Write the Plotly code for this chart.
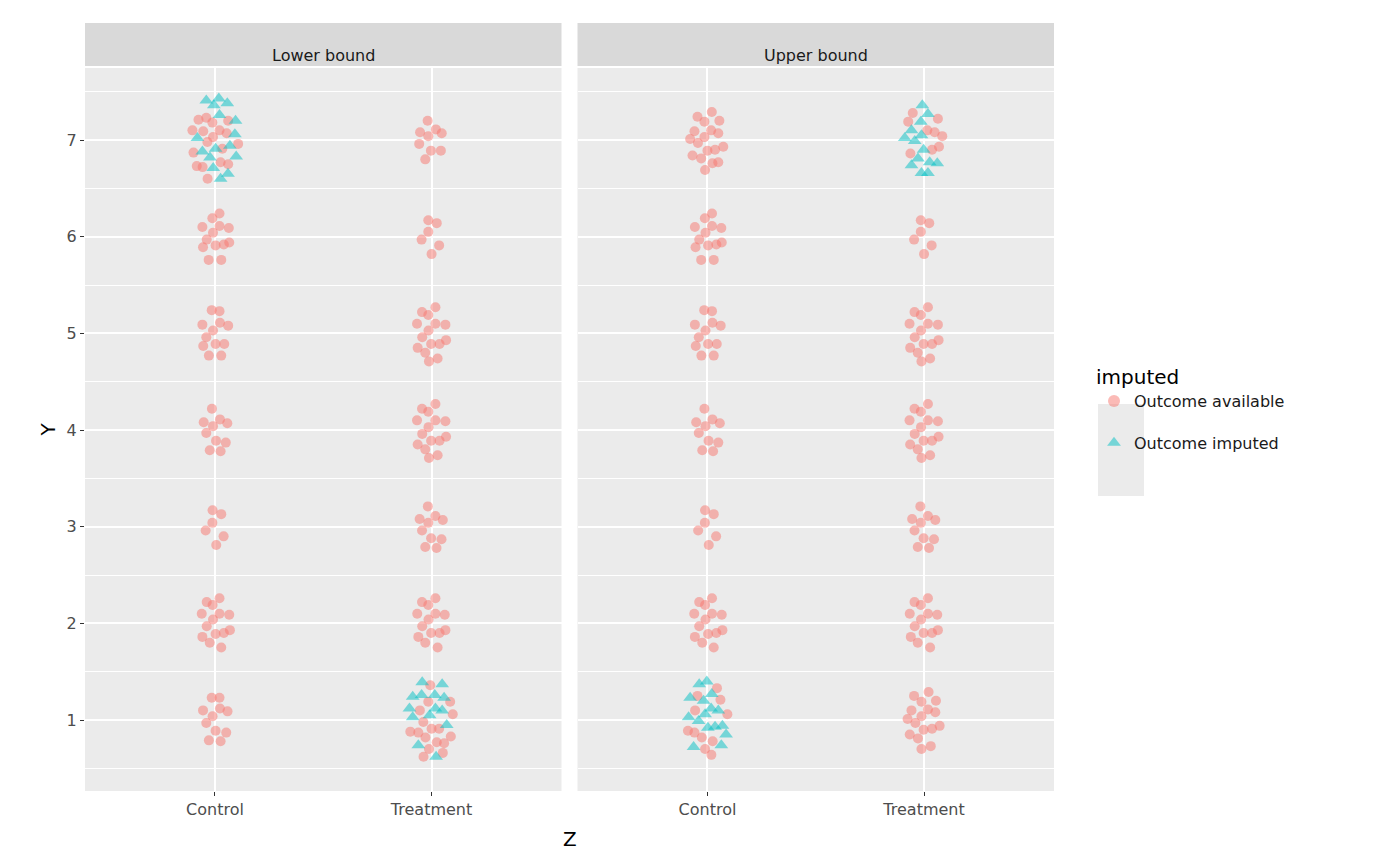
import plotly.graph_objects as go
from plotly.subplots import make_subplots

# Z categories and panels
categories = ["Control", "Treatment"]
panels = ["Lower bound", "Upper bound"]

# observed outcomes (same in both panels), (jitter offset, Y)
ctrl_y7_lower = [(-.076, 7.21), (-.04, 7.23), (-.012, 7.18), (.061, 7.20), (-.104, 7.10), (-.054, 7.09),
                 (.021, 7.10), (.054, 7.07), (-.009, 7.03), (-.035, 6.98), (.107, 6.96), (.034, 6.91),
                 (-.099, 6.87), (-.084, 6.73), (-.057, 6.72), (.026, 6.77), (.061, 6.75), (-.034, 6.60)]
ctrl_y7_upper = [(-.046, 7.24), (.02, 7.29), (-.014, 7.19), (.055, 7.20), (-.06, 7.09), (.017, 7.10),
                 (.05, 7.07), (-.08, 7.01), (-.014, 7.03), (-.044, 6.97), (.073, 6.93), (0, 6.89),
                 (.035, 6.90), (-.069, 6.84), (-.029, 6.81), (.023, 6.76), (.05, 6.77), (-.011, 6.69)]
ctrl_y6 = [(.021, 6.24), (-.012, 6.19), (-.058, 6.10), (.021, 6.11), (.064, 6.09), (-.009, 6.04),
           (-.038, 5.97), (.066, 5.94), (-.055, 5.89), (.003, 5.91), (.041, 5.92), (-.029, 5.76), (.029, 5.76)]
ctrl_y5 = [(-.015, 5.24), (.021, 5.23), (-.058, 5.09), (.023, 5.11), (.061, 5.08), (-.009, 5.03),
           (-.04, 4.96), (.003, 4.89), (.043, 4.89), (-.054, 4.87), (-.028, 4.77), (.029, 4.77)]
ctrl_y4 = [(-.014, 4.22), (-.052, 4.08), (.023, 4.11), (.057, 4.07), (-.009, 4.04), (-.04, 3.97),
           (.005, 3.89), (.05, 3.87), (-.024, 3.79), (.026, 3.78)]
ctrl_y3 = [(-.011, 3.17), (.029, 3.13), (-.012, 3.04), (-.043, 2.96), (.04, 2.90), (.006, 2.81)]
ctrl_y2 = [(.021, 2.26), (-.038, 2.22), (-.011, 2.19), (-.061, 2.10), (.021, 2.10), (.066, 2.09),
           (-.009, 2.04), (-.038, 1.97), (.069, 1.93), (.003, 1.89), (.041, 1.90), (-.058, 1.86),
           (-.024, 1.80), (.029, 1.75)]
ctrl_y1_lower = [(-.015, 1.23), (.021, 1.23), (-.055, 1.10), (.023, 1.12), (.058, 1.09), (-.011, 1.04),
                 (-.04, 0.97), (.003, 0.89), (.052, 0.87), (-.028, 0.79), (.026, 0.78)]
ctrl_y1_upper = [(.044, 1.33), (-.046, 1.25), (.06, 1.21), (-.057, 1.10), (.092, 1.06), (-.09, 0.89),
                 (-.06, 0.87), (-.026, 0.82), (.024, 0.78), (-.011, 0.70), (.018, 0.64)]

trt_y7_lower = [(-.018, 7.20), (-.053, 7.08), (.02, 7.11), (.047, 7.07), (-.015, 7.04), (-.057, 6.96),
                (-.003, 6.89), (.043, 6.89), (-.029, 6.80)]
trt_y7_upper = [(-.052, 7.28), (-.073, 7.19), (.064, 7.22), (.015, 7.10), (.049, 7.08), (.084, 7.04),
                (.069, 6.93), (.037, 6.90), (-.063, 6.86)]
trt_y6 = [(-.015, 6.17), (.024, 6.14), (-.015, 6.05), (-.046, 5.97), (.035, 5.91), (0, 5.82)]
trt_y5 = [(-.044, 5.22), (.018, 5.27), (-.015, 5.19), (-.067, 5.10), (.018, 5.10), (.064, 5.09),
          (-.014, 5.03), (-.043, 4.96), (.067, 4.93), (-.002, 4.89), (.037, 4.89), (-.064, 4.85),
          (-.029, 4.80), (-.012, 4.71), (.028, 4.74)]
trt_y4 = [(-.044, 4.22), (.018, 4.27), (-.015, 4.19), (-.067, 4.10), (.018, 4.10), (.064, 4.09),
          (-.014, 4.03), (-.043, 3.96), (.067, 3.93), (-.002, 3.89), (.037, 3.89), (-.064, 3.85),
          (-.029, 3.80), (-.012, 3.71), (.028, 3.74)]
trt_y3 = [(-.017, 3.21), (-.055, 3.08), (.018, 3.11), (.052, 3.07), (-.015, 3.04), (-.044, 2.96),
          (-.002, 2.88), (.046, 2.87), (-.029, 2.79), (.023, 2.78)]
trt_y2 = [(.018, 2.26), (-.044, 2.22), (-.015, 2.19), (-.066, 2.10), (.018, 2.10), (.061, 2.09),
          (-.014, 2.04), (-.043, 1.97), (.064, 1.93), (-.002, 1.90), (.037, 1.90), (-.061, 1.86),
          (-.029, 1.80), (.028, 1.75)]
trt_y1_lower = [(-.006, 1.36), (.086, 1.19), (-.015, 1.19), (-.054, 1.10), (.098, 1.06), (-.038, 0.98),
                (-.098, 0.88), (-.061, 0.87), (0, 0.91), (.035, 0.91), (-.028, 0.82), (.089, 0.83),
                (.024, 0.77), (.058, 0.76), (-.012, 0.70), (.052, 0.66), (-.037, 0.62)]
trt_y1_upper = [(-.046, 1.25), (.021, 1.29), (-.012, 1.19), (.055, 1.20), (-.058, 1.10), (.018, 1.11),
                (.052, 1.08), (-.076, 1.01), (-.012, 1.04), (-.04, 0.97), (-.002, 0.90), (.037, 0.91),
                (.072, 0.94), (-.066, 0.85), (-.028, 0.81), (-.012, 0.70), (.031, 0.73)]

# imputed outcomes
imp_lower_ctrl = [(-.04, 7.41), (.018, 7.43), (.057, 7.38), (-.005, 7.36), (.021, 7.26), (.095, 7.20),
                  (.092, 7.06), (-.081, 7.02), (.003, 6.91), (.069, 6.94), (-.058, 6.88), (-.023, 6.82),
                  (.098, 6.83), (-.008, 6.71), (.06, 6.65), (.026, 6.60)]
imp_lower_trt = [(-.043, 1.39), (.049, 1.37), (-.087, 1.24), (-.046, 1.26), (.015, 1.26), (.058, 1.23),
                 (-.102, 1.12), (.018, 1.12), (.049, 1.10), (-.009, 1.05), (-.087, 1.03), (.07, 0.95),
                 (-.061, 0.74), (.021, 0.62)]
imp_upper_ctrl = [(-.038, 1.37), (-.003, 1.40), (-.08, 1.23), (-.018, 1.20), (.02, 1.27), (.05, 1.10),
                  (.017, 1.12), (-.087, 1.03), (-.011, 1.06), (-.041, 0.99), (.069, 0.94), (.035, 0.93),
                  (.002, 0.92), (.086, 0.85), (-.064, 0.72), (.064, 0.74)]
imp_upper_trt = [(-.008, 7.36), (.018, 7.27), (-.015, 7.19), (-.058, 7.10), (-.089, 7.02), (-.012, 7.05),
                 (-.043, 6.99), (-.002, 6.90), (-.028, 6.81), (-.058, 6.74), (.026, 6.77), (.061, 6.76),
                 (-.012, 6.66), (.018, 6.66)]

observed_mid_ctrl = ctrl_y6 + ctrl_y5 + ctrl_y4 + ctrl_y3 + ctrl_y2
observed_mid_trt = trt_y6 + trt_y5 + trt_y4 + trt_y3 + trt_y2

panel_data = {
    "Lower bound": {
        "avail": [(0, ctrl_y7_lower + observed_mid_ctrl + ctrl_y1_lower),
                  (1, trt_y7_lower + observed_mid_trt + trt_y1_lower)],
        "imp": [(0, imp_lower_ctrl), (1, imp_lower_trt)],
    },
    "Upper bound": {
        "avail": [(0, ctrl_y7_upper + observed_mid_ctrl + ctrl_y1_upper),
                  (1, trt_y7_upper + observed_mid_trt + trt_y1_upper)],
        "imp": [(0, imp_upper_ctrl), (1, imp_upper_trt)],
    },
}

RED = "#F8766D"
TEAL = "#00BFC4"
FONT = "DejaVu Sans"
PW, PH = 969, 723  # plot area in px

fig = make_subplots(rows=1, cols=2, shared_yaxes=True, horizontal_spacing=16 / PW)

for i, p in enumerate(panels):
    col = i + 1
    for key, name, color, symbol in [("avail", "Outcome available", RED, "circle"),
                                     ("imp", "Outcome imputed", TEAL, "triangle-up")]:
        xs, ys = [], []
        for cat, pts in panel_data[p][key]:
            xs += [cat + dx for dx, _ in pts]
            ys += [y for _, y in pts]
        fig.add_trace(go.Scatter(
            x=xs, y=ys, mode="markers", name=name, legendgroup=name, showlegend=(i == 0),
            marker=dict(color=color, symbol=symbol, size=10 if symbol == "circle" else 12,
                        opacity=0.5, line=dict(width=0)),
        ), row=1, col=col)
    # facet strip
    xr = "x%s domain" % ("" if col == 1 else col)
    fig.add_shape(type="rect", xref=xr, yref="paper",
                  x0=0, x1=1, y0=1 + 2 / PH, y1=1 + 45 / PH,
                  fillcolor="#D9D9D9", line=dict(width=0))
    fig.add_annotation(text=p, xref=xr, yref="paper",
                       x=0.5, y=1 + 23.5 / PH, showarrow=False,
                       font=dict(family=FONT, size=16, color="#1A1A1A"))

# legend key background
fig.add_shape(type="rect", xref="paper", yref="paper",
              x0=(1090 - 77) / PW, x1=(1136 - 77) / PW,
              y0=(783 - 488) / PH, y1=(783 - 396) / PH,
              fillcolor="#EBEBEB", line=dict(width=0))

fig.update_xaxes(range=[-0.6, 1.6], tickvals=[0, 1], ticktext=categories, showgrid=True,
                 gridcolor="white", gridwidth=2, zeroline=False, ticks="outside", ticklen=4,
                 tickcolor="#333333", automargin=False,
                 tickfont=dict(family=FONT, size=16, color="#4D4D4D"))
fig.update_yaxes(range=[0.266, 7.745], tickvals=[1, 2, 3, 4, 5, 6, 7], showgrid=True,
                 gridcolor="white", gridwidth=2, zeroline=False, automargin=False,
                 tickfont=dict(family=FONT, size=16, color="#4D4D4D"),
                 minor=dict(tickvals=[0.5, 1.5, 2.5, 3.5, 4.5, 5.5, 6.5, 7.5], showgrid=True,
                            gridcolor="white", gridwidth=1))
fig.update_yaxes(ticks="outside", ticklen=4, tickcolor="#333333", row=1, col=1)
fig.update_yaxes(ticks="", row=1, col=2)

fig.add_annotation(text="Z", xref="paper", yref="paper", x=0.5, y=-62 / PH, showarrow=False,
                   font=dict(family=FONT, size=20, color="black"))
fig.add_annotation(text="Y", xref="paper", yref="paper", x=-52 / PW, y=0.5, showarrow=False,
                   textangle=-90, font=dict(family=FONT, size=20, color="black"))

fig.update_layout(
    width=1400, height=866,
    margin=dict(l=77, r=354, t=60, b=83),
    plot_bgcolor="#EBEBEB", paper_bgcolor="white",
    font=dict(family=FONT),
    legend=dict(title=dict(text="imputed", font=dict(size=20, color="black")),
                font=dict(size=16, color="#1A1A1A"), x=(1086 - 77) / PW, y=(783 - 350) / PH,
                yanchor="top", tracegroupgap=18,
                bgcolor="rgba(0,0,0,0)", itemsizing="constant"),
)

fig.write_html("out.html")
